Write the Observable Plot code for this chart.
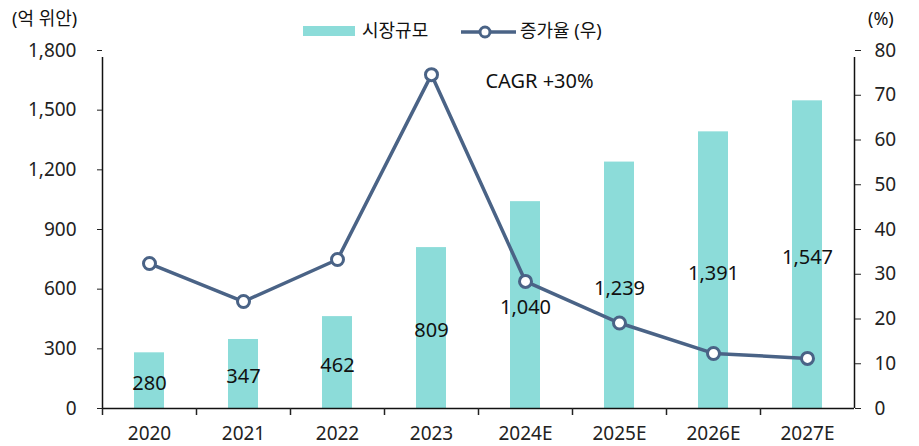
<!DOCTYPE html>
<html>
<head>
<meta charset="utf-8">
<script src="https://cdn.jsdelivr.net/npm/d3@7"></script>
<script src="https://cdn.jsdelivr.net/npm/@observablehq/plot@0.6"></script>
<style>
  html, body { margin: 0; padding: 0; background: #fff; }
  #chart { width: 919px; height: 446px; }
</style>
</head>
<body>
<div id="chart"></div>
<script>
// ---- data ----
const years = ["2020", "2021", "2022", "2023", "2024E", "2025E", "2026E", "2027E"];
const marketSize = [280, 347, 462, 809, 1040, 1239, 1391, 1547];   // 억 위안 (left)
const growthRate = [32.4, 23.9, 33.3, 74.6, 28.4, 19.1, 12.3, 11.2]; // % (right)
const leftTicks = [0, 300, 600, 900, 1200, 1500, 1800];
const rightTicks = [0, 10, 20, 30, 40, 50, 60, 70, 80];
const seriesNames = ["시장규모", "증가율 (우)"];
const leftUnit = "(억 위안)";
const rightUnit = "(%)";
const annotation = "CAGR +30%";

// ---- layout ----
const W = 919, H = 446;
const mL = 102, mR = 65, mT = 50, mB = 38;
const step = (W - mL - mR) / years.length;
const leftMax = 1800, rightMax = 80;
const k = leftMax / rightMax;

const barColor = "#8cdcd9";
const lineColor = "#4a6386";
const fontFam = '"Noto Sans", "Noto Sans CJK KR", sans-serif';

const data = years.map((y, i) => ({ year: y, size: marketSize[i], growth: growthRate[i] }));
const fmt = d3.format(",");

const plot = Plot.plot({
  width: W, height: H,
  marginLeft: mL, marginRight: mR, marginTop: mT, marginBottom: mB,
  style: { fontFamily: fontFam, fontSize: "19px", color: "#222", background: "#fff" },
  x: { type: "band", domain: years, paddingInner: 0, paddingOuter: 0, label: null },
  y: { domain: [0, leftMax], label: null },
  marks: [
    Plot.barY(data, { x: "year", y: "size", fill: barColor, insetLeft: 32, insetRight: 32 }),
    Plot.text(data, { x: "year", y: d => d.size / 2, text: d => fmt(d.size), dy: 3, fontSize: 20, fill: "#111" }),
    // axes lines
    Plot.ruleY([0], { stroke: "#111", strokeWidth: 1.5 }),
    Plot.ruleX([years[0]], { y1: 0, y2: leftMax, dx: -step / 2, stroke: "#111", strokeWidth: 1.5, insetBottom: -7 }),
    Plot.ruleX([years[years.length - 1]], { y1: 0, y2: leftMax, dx: step / 2, stroke: "#111", strokeWidth: 1.5, insetBottom: -7 }),
    // left axis
    Plot.axisY({ ticks: leftTicks, tickFormat: fmt, tickSize: 5, tickPadding: 21, label: null, fontSize: 19 }),
    // right axis
    Plot.axisY({ anchor: "right", ticks: rightTicks.map(d => d * k), tickFormat: d => Math.round(d / k), tickSize: 6, tickPadding: 14, label: null, fontSize: 19 }),
    // x labels
    Plot.axisX({ tickSize: 0, tickPadding: 18, label: null, fontSize: 19 }),
    // x boundary ticks
    Plot.axisX({ tickSize: 7, tickFormat: () => "", dx: -step / 2, label: null, strokeWidth: 1.5 }),
    // growth line
    Plot.line(data, { x: "year", y: d => d.growth * k, stroke: lineColor, strokeWidth: 3.5 }),
    Plot.dot(data, { x: "year", y: d => d.growth * k, r: 6, fill: "white", stroke: lineColor, strokeWidth: 3 }),
    // annotation
    Plot.text([annotation], { x: () => "2024E", y: () => 1645, text: d => d, dx: 14, fontSize: 20, fill: "#111" })
  ]
});

document.getElementById("chart").appendChild(plot);

// ---- legend & unit labels ----
const svg = d3.select(plot);
const g = svg.append("g").attr("font-family", fontFam).attr("fill", "#111").attr("text-anchor", "start");
g.append("text").attr("x", 12).attr("y", 19).attr("dy", "0.35em").attr("font-size", 18).text(leftUnit);
g.append("text").attr("x", 868).attr("y", 19).attr("dy", "0.35em").attr("font-size", 18).text(rightUnit);
g.append("rect").attr("x", 303).attr("y", 26).attr("width", 52).attr("height", 10).attr("fill", barColor);
g.append("text").attr("x", 362).attr("y", 31).attr("dy", "0.35em").attr("font-size", 18).text(seriesNames[0]);
g.append("line").attr("x1", 461).attr("x2", 516).attr("y1", 32).attr("y2", 32).attr("stroke", lineColor).attr("stroke-width", 3.5);
g.append("circle").attr("cx", 485).attr("cy", 32).attr("r", 5).attr("fill", "white").attr("stroke", lineColor).attr("stroke-width", 3);
g.append("text").attr("x", 520).attr("y", 31).attr("dy", "0.35em").attr("font-size", 18).text(seriesNames[1]);
</script>
</body>
</html>
